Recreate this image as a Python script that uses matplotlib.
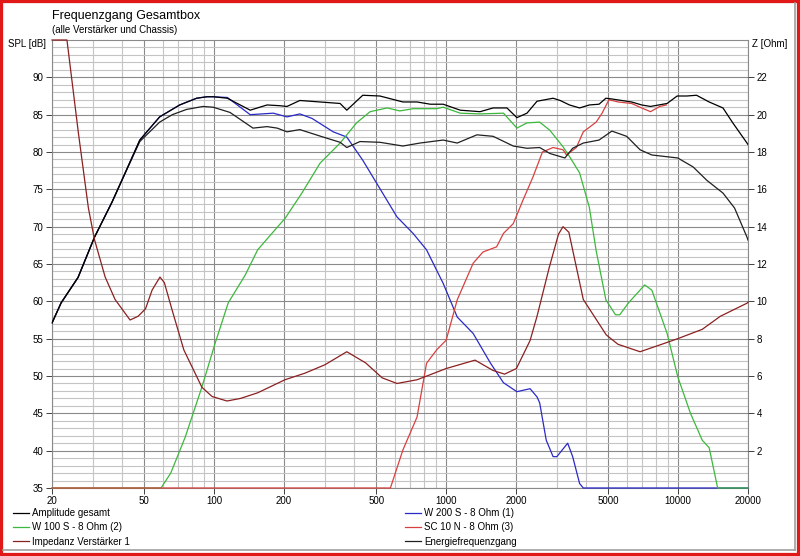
import numpy as np
import matplotlib.pyplot as plt
from matplotlib.patches import Rectangle
from matplotlib.lines import Line2D

plt.rcParams['font.family'] = ['Liberation Sans', 'DejaVu Sans']

# Amplitude gesamt (dB)
f_amp = [20, 21.9, 25.9, 30.5, 36.3, 40, 47.8, 58.2, 71, 84, 93, 99, 114, 143, 169, 192, 206, 234,
         286, 349, 373, 437, 518, 651, 749, 854, 971, 1150, 1400, 1594, 1828, 2018, 2230, 2464,
         2890, 3100, 3400, 3760, 4140, 4560, 4880, 5180, 6300, 6960, 7600, 8960, 9900, 10900,
         12000, 13600, 15600, 17200, 19800, 20000]
spl_amp = [57.1, 59.8, 63.2, 68.6, 73.3, 76.2, 81.6, 84.7, 86.3, 87.2, 87.4, 87.4, 87.2, 85.6, 86.3,
           86.2, 86.1, 86.9, 86.7, 86.5, 85.6, 87.6, 87.5, 86.7, 86.7, 86.4, 86.4, 85.6, 85.4, 85.9,
           85.9, 84.6, 85.2, 86.8, 87.2, 86.9, 86.3, 85.9, 86.3, 86.4, 87.2, 87.1, 86.7, 86.3, 86.1,
           86.5, 87.5, 87.5, 87.6, 86.7, 85.9, 83.9, 81.2, 81.0]

# Energiefrequenzgang (dB)
f_energ = [20, 21.9, 25.9, 30.5, 36.3, 40, 47.8, 58.2, 66, 76, 89.5, 99, 117, 147, 169, 187, 206,
           234, 295, 349, 373, 425, 518, 651, 771, 971, 1116, 1357, 1594, 1946, 2230, 2530, 2800,
           3250, 3510, 3900, 4560, 5180, 6000, 6850, 7700, 9960, 11600, 13300, 15600, 17500,
           19800, 20000]
spl_energ = [57.1, 59.8, 63.2, 68.6, 73.3, 76.2, 81.4, 84.0, 85.0, 85.7, 86.1, 86.0, 85.3, 83.2,
             83.4, 83.2, 82.7, 83.0, 82.0, 81.3, 80.6, 81.4, 81.3, 80.8, 81.2, 81.6, 81.2, 82.3,
             82.1, 80.8, 80.5, 80.6, 79.8, 79.2, 80.5, 81.2, 81.6, 82.8, 82.1, 80.3, 79.6, 79.2,
             78.0, 76.2, 74.5, 72.5, 68.6, 68.2]

# W 200 S - 8 Ohm (1)
f_w200 = [20, 21.9, 25.9, 30.5, 36.3, 40, 47.8, 58.2, 71, 84, 93, 99, 114, 143, 180, 206, 234, 264,
          326, 373, 437, 518, 614, 720, 823, 971, 1116, 1307, 1554, 1766, 2018, 2300, 2464, 2530,
          2700, 2890, 3000, 3340, 3510, 3760, 3900, 20000]
spl_w200 = [57.1, 59.8, 63.2, 68.6, 73.3, 76.2, 81.6, 84.7, 86.3, 87.2, 87.4, 87.4, 87.3, 85.0,
            85.2, 84.7, 85.1, 84.5, 82.7, 82.0, 78.9, 75.1, 71.3, 69.1, 66.9, 62.4, 57.9, 55.7,
            51.7, 49.1, 47.9, 48.3, 47.2, 46.4, 41.4, 39.2, 39.2, 41.0, 39.2, 35.6, 35.0, 35.0]

# W 100 S - 8 Ohm (2)
f_w100 = [20, 59, 65, 75, 88.5, 101, 115, 136, 154, 188, 202, 240, 286, 349, 411, 470, 557, 631,
          720, 910, 971, 1150, 1400, 1766, 2018, 2230, 2530, 2800, 3190, 3400, 3760, 4140, 4430,
          4880, 5370, 5600, 6110, 6850, 7170, 7700, 8960, 9960, 11300, 12700, 13600, 14800, 20000]
spl_w100 = [35.0, 35.0, 37.0, 41.8, 48.5, 54.4, 59.8, 63.5, 66.9, 70.0, 71.1, 74.6, 78.5, 81.2,
            83.9, 85.4, 85.9, 85.5, 85.8, 85.8, 86.0, 85.2, 85.1, 85.2, 83.2, 83.9, 84.0, 82.9,
            80.7, 79.4, 77.2, 72.6, 66.8, 60.2, 58.2, 58.2, 59.8, 61.5, 62.2, 61.5, 55.7, 49.9,
            45.0, 41.4, 40.4, 35.0, 35.0]

# SC 10 N - 8 Ohm (3)
f_sc10 = [20, 575, 651, 749, 823, 910, 1000, 1116, 1307, 1440, 1650, 1766, 1946, 2140, 2370, 2600,
          2890, 3190, 3300, 3640, 3900, 4430, 4700, 5030, 5520, 6300, 6960, 7600, 8330, 8900]
spl_sc10 = [35.0, 35.0, 40.1, 44.5, 51.7, 53.5, 54.8, 60.2, 65.1, 66.6, 67.3, 69.1, 70.4, 73.5,
            76.7, 80.0, 80.6, 80.3, 79.6, 80.6, 82.7, 84.0, 85.2, 87.0, 86.7, 86.5, 85.9, 85.4,
            86.1, 86.3]

# Impedanz Verstärker 1 (Ohm, rechte Achse)
f_imp = [20, 23.2, 26, 28.7, 30.5, 33.9, 37.4, 43.4, 47, 50.6, 54, 58.4, 61, 66, 74, 88.5, 98,
         113.6, 130, 154, 202, 246, 300, 373, 450, 530, 614, 750, 1000, 1332, 1590, 1786, 2008,
         2300, 2464, 2780, 3050, 3189, 3380, 3900, 4900, 5500, 6850, 8500, 9960, 12700, 15200,
         19800, 20000]
z_imp = [24.0, 24.0, 19.0, 15.0, 13.3, 11.3, 10.1, 9.0, 9.2, 9.6, 10.6, 11.3, 11.0, 9.5, 7.4, 5.4,
         4.9, 4.66, 4.8, 5.1, 5.8, 6.15, 6.6, 7.3, 6.7, 5.9, 5.6, 5.8, 6.4, 6.85, 6.3, 6.1, 6.4,
         7.9, 9.2, 11.8, 13.6, 14.0, 13.7, 10.1, 8.2, 7.7, 7.3, 7.7, 8.0, 8.5, 9.2, 9.9, 9.95]

x_labels = [20, 50, 100, 200, 500, 1000, 2000, 5000, 10000, 20000]

fig = plt.figure(figsize=(8, 5.56), dpi=100)
ax = fig.add_axes([52 / 800, 1 - 488 / 556, 696 / 800, 448 / 556])
ax2 = ax.twinx()

lw = 0.9
l_w200, = ax.plot(f_w200, spl_w200, color='#2a2ac8', lw=lw, zorder=3, clip_on=False)
l_w100, = ax.plot(f_w100, spl_w100, color='#3cb83c', lw=lw, zorder=3, clip_on=False)
l_sc10, = ax.plot(f_sc10, spl_sc10, color='#d84040', lw=lw, zorder=3, clip_on=False)
l_energ, = ax.plot(f_energ, spl_energ, color='#202020', lw=lw, zorder=4)
l_amp, = ax.plot(f_amp, spl_amp, color='#000000', lw=lw, zorder=4)
l_imp, = ax2.plot(f_imp, z_imp, color='#8b2020', lw=lw, clip_on=False)

ax.set_xscale('log')
ax.set_xlim(20, 20000)
ax.set_ylim(35, 95)
ax2.set_ylim(0, 24)

minor_x = [m * 10 ** e for e in range(1, 5) for m in range(1, 10)]
minor_x = [v for v in minor_x if 20 <= v <= 20000 and v not in x_labels]
ax.set_xticks(x_labels)
ax.set_xticklabels([str(v) for v in x_labels])
ax.set_xticks(minor_x, minor=True)
ax.set_yticks(np.arange(35, 91, 5))
ax.set_yticks(np.arange(35, 95, 1), minor=True)
ax2.set_yticks(np.arange(2, 23, 2))

ax.grid(True, which='major', color='#8a8a8a', lw=0.8)
ax.grid(True, which='minor', color='#c4c4c4', lw=0.8)
ax.set_axisbelow(True)

for s in ax.spines.values():
    s.set_color('#8a8a8a')
    s.set_linewidth(0.8)
    s.set_zorder(1)
for s in ax2.spines.values():
    s.set_visible(False)
ax.tick_params(axis='both', which='major', labelsize=7, length=4, width=0.7, color='#404040', pad=2)
ax.tick_params(axis='both', which='minor', length=0)
ax2.tick_params(axis='y', labelsize=7, length=4, width=0.7, color='#404040', pad=2)

fig.text(52 / 800, 1 - 16 / 556, 'Frequenzgang Gesamtbox', fontsize=9, va='center', ha='left')
fig.text(52 / 800, 1 - 30 / 556, '(alle Verstärker und Chassis)', fontsize=7, va='center', ha='left')
fig.text(46 / 800, 1 - 44 / 556, 'SPL [dB]', fontsize=7, va='center', ha='right')
fig.text(752 / 800, 1 - 44 / 556, 'Z [Ohm]', fontsize=7, va='center', ha='left')

leg_kw = dict(frameon=False, fontsize=7, handlelength=1.6, handletextpad=0.4,
              labelspacing=0.45, borderpad=0, borderaxespad=0, loc='upper left')
leg1 = fig.legend([l_amp, l_w100, l_imp],
                  ['Amplitude gesamt', 'W 100 S - 8 Ohm (2)', 'Impedanz Verstärker 1'],
                  bbox_to_anchor=(13 / 800, 1 - 508 / 556), **leg_kw)
leg2 = fig.legend([l_w200, l_sc10, l_energ],
                  ['W 200 S - 8 Ohm (1)', 'SC 10 N - 8 Ohm (3)', 'Energiefrequenzgang'],
                  bbox_to_anchor=(405 / 800, 1 - 508 / 556), **leg_kw)

# Fensterrahmen
fig.add_artist(Line2D([795 / 800, 795 / 800], [1 - 550 / 556, 1 - 3 / 556], transform=fig.transFigure,
                      color='#a0a0a0', lw=1.2))
fig.add_artist(Line2D([3 / 800, 795 / 800], [1 - 550 / 556, 1 - 550 / 556], transform=fig.transFigure,
                      color='#a0a0a0', lw=1.2))
fig.add_artist(Rectangle((0, 0), 1, 1, transform=fig.transFigure, fill=False,
                         edgecolor='#e01818', lw=4.5))

fig.savefig('out.png', dpi=100)
